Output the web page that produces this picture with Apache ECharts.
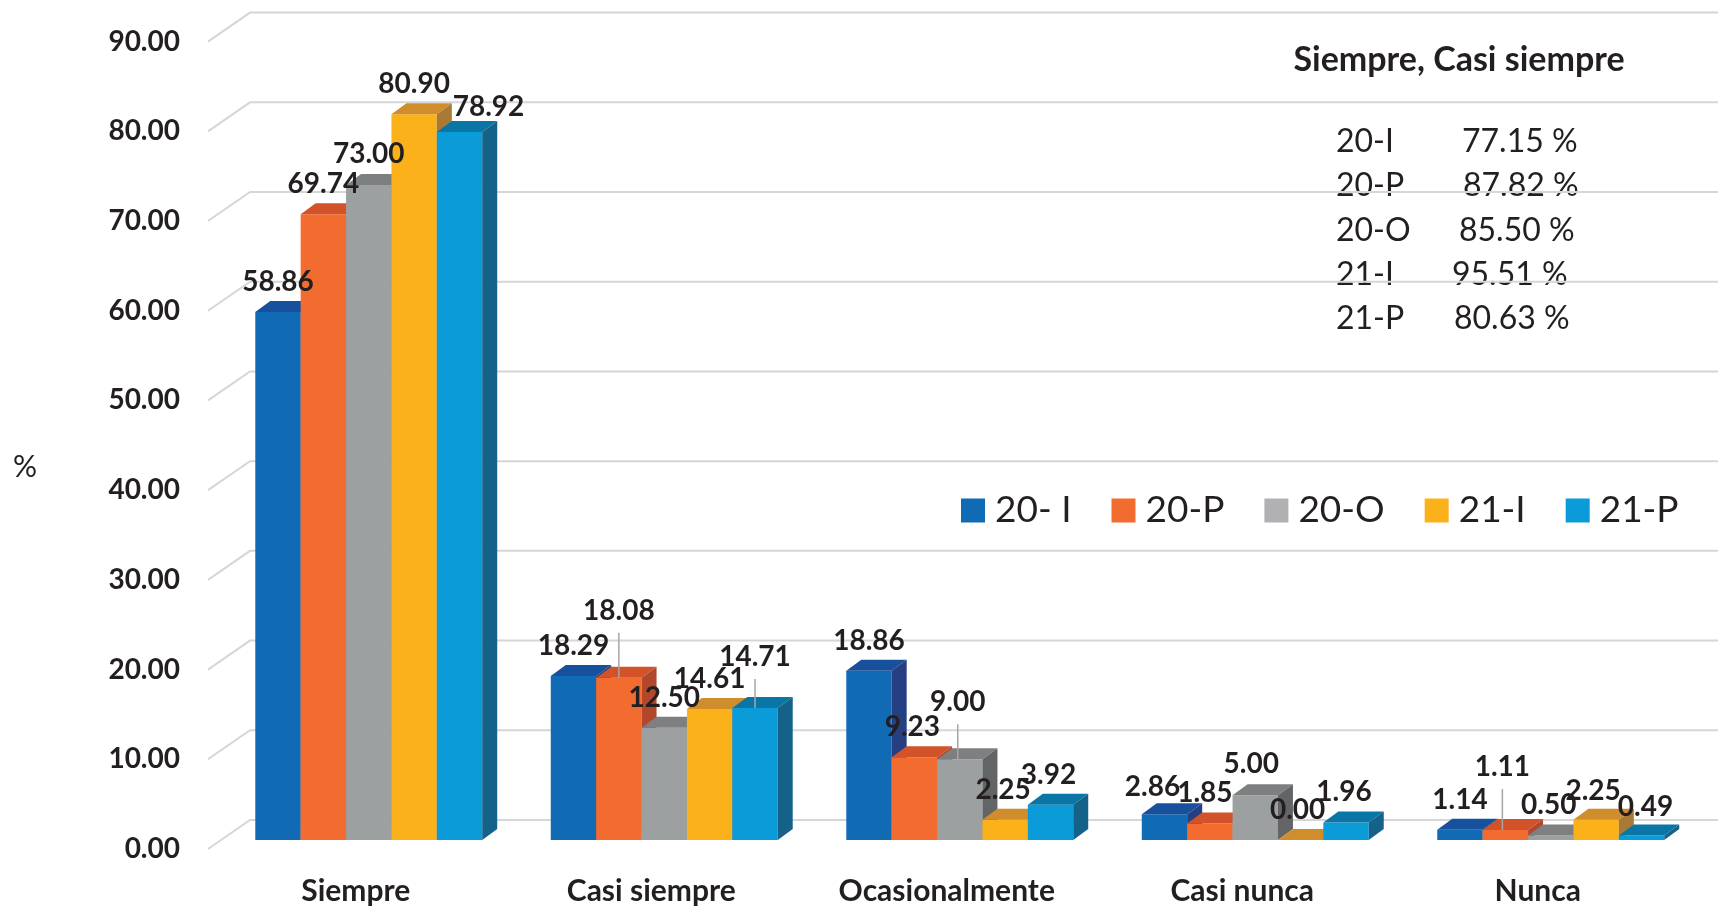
<!DOCTYPE html>
<html><head><meta charset="utf-8">
<script src="https://cdn.jsdelivr.net/npm/echarts@6/dist/echarts.min.js"></script>
<style>html,body{margin:0;padding:0;background:#fff}#c{width:1718px;height:906px}</style>
</head><body><div id="c"></div>
<script>
// ---- data ----
const categories = ['Siempre', 'Casi siempre', 'Ocasionalmente', 'Casi nunca', 'Nunca'];
const seriesNames = ['20- I', '20-P', '20-O', '21-I', '21-P'];
const s20I = [58.86, 18.29, 18.86, 2.86, 1.14];
const s20P = [69.74, 18.08, 9.23, 1.85, 1.11];
const s20O = [73.00, 12.50, 9.00, 5.00, 0.50];
const s21I = [80.90, 14.61, 2.25, 0.00, 2.25];
const s21P = [78.92, 14.71, 3.92, 1.96, 0.49];
const yTicks = [0, 10, 20, 30, 40, 50, 60, 70, 80, 90];
const summaryTitle = 'Siempre, Casi siempre';
const summaryNames = ['20-I', '20-P', '20-O', '21-I', '21-P'];
const summaryValues = [77.15, 87.82, 85.50, 95.51, 80.63];

// ---- styles / layout ----
const seriesValues = [s20I, s20P, s20O, s21I, s21P];
const palette = [
  {front: '#116ab4', top: '#17509c', side: '#253f82'},
  {front: '#f16c2e', top: '#d2522a', side: '#b3472b'},
  {front: '#9da0a1', top: '#7e7f81', side: '#636466'},
  {front: '#fbb21a', top: '#cf8d2c', side: '#a97a35'},
  {front: '#0b9bd8', top: '#0a76a6', side: '#14628a'}
];
const legendColors = ['#116ab4', '#f26c2f', '#b1b1b4', '#fbb11a', '#0b9bd8'];
// label nudges [dx, dy] per series per category (layout only)
const labelNudge = [
  [[0, 0], [0, 0], [0, 0], [-12, 3], [0, 0]],
  [[0, 0], [0, -37], [-2, 0], [-5, 0], [-3, -33]],
  [[0, -1], [0, 0], [-2, -27], [-4, -1], [-2, -1]],
  [[0, 0], [0, 0], [-2, 0], [-3, 0], [-3, 1]],
  [[29, 5], [0, -21], [-2, 0], [-2, 0], [4, 1]]
];
const summaryValueX = [1462, 1463, 1459, 1452, 1454];
const FONT = 'Lato, "Open Sans", sans-serif';
const TXT = '#231f20';
const DEPTH_X = 15, DEPTH_Y = 11, SHIFT_X = 13, SHIFT_Y = -9, GROUP_FRAC = 0.768, LABEL_GAP = 19;
const BACK_X = 42, BACK_Y = 29;

function barRenderer(si) {
  return function (params, api) {
    const ci = api.value(0), v = api.value(1);
    const p0 = api.coord([ci, 0]), p1 = api.coord([ci, v]);
    const band = api.size([1, 0])[0];
    const gw = band * GROUP_FRAC, bw = gw / 5;
    const x = p0[0] - gw / 2 + si * bw + SHIFT_X;
    const yb = p0[1] + SHIFT_Y, yt = p1[1] + SHIFT_Y;
    const c = palette[si];
    const n = labelNudge[si][ci];
    const lx = x + bw / 2 + n[0], ly = yt - DEPTH_Y - LABEL_GAP + n[1];
    const children = [
      {type: 'rect', shape: {x: x, y: yt, width: bw, height: yb - yt}, style: {fill: c.front}},
      {type: 'polygon', shape: {points: [[x, yt], [x + bw, yt], [x + bw + DEPTH_X, yt - DEPTH_Y], [x + DEPTH_X, yt - DEPTH_Y]]}, style: {fill: c.top}},
      {type: 'polygon', shape: {points: [[x + bw, yt], [x + bw + DEPTH_X, yt - DEPTH_Y], [x + bw + DEPTH_X, yb - DEPTH_Y], [x + bw, yb]]}, style: {fill: c.side}}
    ];
    if (n[1] < -15) {
      children.push({type: 'line', z2: 99, shape: {x1: lx, y1: ly + 22, x2: lx, y2: yt}, style: {stroke: '#a6a6a6', lineWidth: 1.5}});
    }
    children.push({type: 'text', z2: 100, style: {text: v.toFixed(2), x: lx, y: ly, align: 'center', verticalAlign: 'middle', font: 'bold 28px ' + FONT, fill: TXT}});
    return {type: 'group', children: children};
  };
}

const series = [{
  type: 'custom', name: 'grid', z: 1, silent: true,
  data: yTicks.map(v => [0, v]),
  renderItem: function (params, api) {
    const y = api.coord([0, api.value(1)])[1];
    const x0 = params.coordSys.x;
    const xEnd = x0 + params.coordSys.width + BACK_X + 60;
    return {type: 'polyline', shape: {points: [[x0, y], [x0 + BACK_X, y - BACK_Y], [xEnd, y - BACK_Y]]},
      style: {stroke: '#d6d6d6', lineWidth: 2, fill: null}};
  }
}];
seriesValues.forEach((vals, si) => {
  series.push({
    type: 'custom', name: seriesNames[si], z: 2,
    itemStyle: {color: palette[si].front},
    data: vals.map((v, i) => [i, v]),
    encode: {x: 0, y: 1},
    renderItem: barRenderer(si)
  });
});

const graphic = [
  {type: 'text', left: 13, top: 452, style: {text: '%', font: '30px ' + FONT, fill: TXT}},
  {type: 'text', x: 1459, y: 60, style: {text: summaryTitle, font: 'bold 34px ' + FONT, fill: TXT, align: 'center', verticalAlign: 'middle'}}
];
summaryNames.forEach((nm, i) => {
  const y = 141.5 + i * 44.4;
  graphic.push({type: 'text', x: 1336, y: y, style: {text: nm, font: '32px ' + FONT, fill: TXT, verticalAlign: 'middle'}});
  graphic.push({type: 'text', x: summaryValueX[i], y: y, style: {text: summaryValues[i].toFixed(2) + ' %', font: '32px ' + FONT, fill: TXT, verticalAlign: 'middle'}});
});

const chart = echarts.init(document.getElementById('c'), null, {renderer: 'canvas'});
chart.setOption({
  animation: false,
  backgroundColor: '#ffffff',
  grid: {left: 208, right: 32.5, top: 41.6, bottom: 57, containLabel: false},
  xAxis: {
    type: 'category', data: categories, boundaryGap: true,
    axisLine: {show: false}, axisTick: {show: false}, splitLine: {show: false},
    axisLabel: {margin: 27, fontFamily: FONT, fontWeight: 'bold', fontSize: 30, color: TXT}
  },
  yAxis: {
    type: 'value', min: 0, max: 90, interval: 10,
    axisLine: {show: false}, axisTick: {show: false}, splitLine: {show: false},
    axisLabel: {margin: 28, fontFamily: FONT, fontWeight: 'bold', fontSize: 28, color: TXT, formatter: v => v.toFixed(2)}
  },
  legend: {
    left: 956, top: 487, itemWidth: 24, itemHeight: 24, itemGap: 40, icon: 'rect',
    data: seriesNames.map((n, i) => ({name: n, itemStyle: {color: legendColors[i]}})),
    textStyle: {fontFamily: FONT, fontSize: 37, color: TXT, padding: [0, 0, 0, 5]}
  },
  graphic: graphic,
  series: series
});
</script></body></html>
